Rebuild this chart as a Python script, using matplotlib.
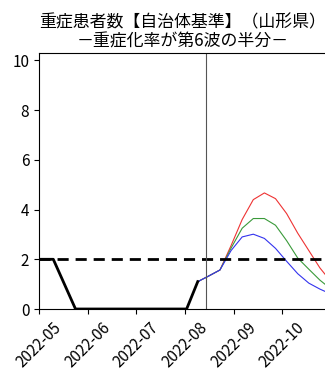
import matplotlib
matplotlib.use('Agg')
import matplotlib.pyplot as plt
import matplotlib.dates as mdates
import numpy as np
import pandas as pd

plt.rcParams['font.family'] = ['Noto Sans CJK JP', 'DejaVu Sans']

# observed severe patients (weekly)
obs_dates = pd.date_range('2022-04-26', '2022-08-09', freq='7D')
obs_vals = [2, 2, 2, 1, 0, 0, 0, 0, 0, 0, 0, 0, 0, 0, 0, 1.1]

# projections (weekly, from 2022-08-09)
proj_dates = pd.date_range('2022-08-09', '2022-11-01', freq='7D')
proj_high = [1.1, 1.33, 1.57, 2.55, 3.6, 4.40, 4.67, 4.44, 3.84, 3.05, 2.35, 1.65, 1.1]
proj_mid = [1.1, 1.33, 1.57, 2.45, 3.25, 3.64, 3.64, 3.37, 2.75, 2.05, 1.6, 1.16, 0.8]
proj_low = [1.1, 1.33, 1.57, 2.35, 2.90, 3.01, 2.84, 2.44, 1.92, 1.42, 1.04, 0.8, 0.6]

threshold = 2
today = pd.Timestamp('2022-08-14')

fig = plt.figure(figsize=(3.25, 3.70), dpi=100)
ax = fig.add_axes([39/325, 1 - 309/370, 1.004 - 39/325, (309 - 53)/370])

ax.plot(proj_dates, proj_high, color='#ee3333', linewidth=0.8)
ax.plot(proj_dates, proj_mid, color='#3a9a3a', linewidth=0.8)
ax.plot(proj_dates, proj_low, color='#3333ee', linewidth=0.8)
ax.plot(obs_dates, obs_vals, color='black', linewidth=2)
ax.axhline(threshold, color='black', linewidth=2, linestyle=(0, (4, 2.5)))
ax.axvline(today, color='#555555', linewidth=0.8)

ax.set_xlim(pd.Timestamp('2022-05-01'), pd.Timestamp('2022-10-29'))
ax.set_ylim(0, 10.3)
ax.set_yticks([0, 2, 4, 6, 8, 10])
ax.xaxis.set_major_locator(mdates.MonthLocator())
ax.xaxis.set_major_formatter(mdates.DateFormatter('%Y-%m'))
ax.tick_params(labelsize=11)
plt.setp(ax.get_xticklabels(), rotation=45, ha='center')

ax.set_title('重症患者数【自治体基準】（山形県）\n－重症化率が第6波の半分－',
             fontsize=12.2, linespacing=1.05, pad=5)

plt.savefig('out.png', dpi=100)
